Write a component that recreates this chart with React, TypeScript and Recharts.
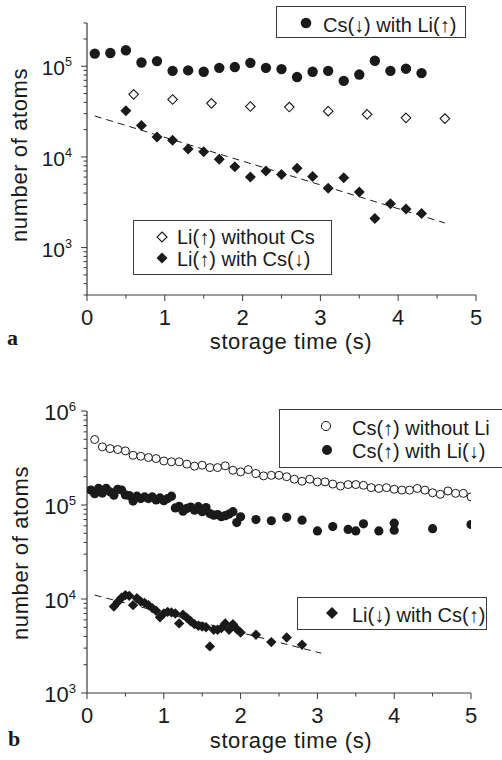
import React from "react";
import { ComposedChart, Scatter, XAxis, YAxis } from "recharts";

// ---- panel a ----
const csDownX = [0.1, 0.3, 0.5, 0.7, 0.9, 1.1, 1.3, 1.5, 1.7, 1.9, 2.1, 2.3, 2.5, 2.7, 2.9, 3.1, 3.3, 3.5, 3.7, 3.9, 4.1, 4.3];
const csDownY = [138000, 140000, 150000, 110000, 114000, 89000, 90000, 87000, 96000, 98000, 109000, 96000, 93000, 76000, 87000, 89000, 69000, 81000, 115000, 89000, 94000, 84000];

const liUpNoCsX = [0.6, 1.1, 1.6, 2.1, 2.6, 3.1, 3.6, 4.1, 4.6];
const liUpNoCsY = [49000, 43000, 39000, 36000, 35500, 32000, 29500, 27000, 26500];

const liUpWithCsX = [0.5, 0.7, 0.9, 1.1, 1.3, 1.5, 1.7, 1.9, 2.1, 2.3, 2.5, 2.7, 2.9, 3.1, 3.3, 3.5, 3.7, 3.9, 4.1, 4.3];
const liUpWithCsY = [32400, 22200, 16600, 15300, 12200, 11400, 9400, 7800, 6000, 7000, 6400, 7500, 6100, 4500, 5900, 4100, 2100, 3050, 2670, 2370];

const fitAX = [0.1, 4.6];
const fitAY = [28300, 1870];

// ---- panel b ----
const csUpNoLiX = [
  0.1, 0.2, 0.3, 0.4, 0.5, 0.6, 0.7, 0.8, 0.9, 1.0,
  1.1, 1.2, 1.3, 1.4, 1.5, 1.6, 1.7, 1.8, 1.9, 2.0,
  2.1, 2.2, 2.3, 2.4, 2.5, 2.6, 2.7, 2.8, 2.9, 3.0,
  3.1, 3.2, 3.3, 3.4, 3.5, 3.6, 3.7, 3.8, 3.9, 4.0,
  4.1, 4.2, 4.3, 4.4, 4.5, 4.6, 4.7, 4.8, 4.9, 5.0,
];
const csUpNoLiY = [
  497000, 415000, 398000, 389000, 376000, 338000, 330000, 320000, 312000, 294000,
  288000, 288000, 272000, 259000, 265000, 250000, 250000, 261000, 234000, 225000,
  238000, 216000, 204000, 207000, 207000, 200000, 188000, 179000, 188000, 176000,
  176000, 167000, 159000, 165000, 165000, 162000, 153000, 150000, 153000, 147000,
  144000, 144000, 150000, 144000, 135000, 130000, 141000, 133000, 133000, 122000,
];

const csUpWithLiX = [
  0.05, 0.1, 0.15, 0.2, 0.25, 0.3, 0.35, 0.4, 0.45, 0.5,
  0.55, 0.6, 0.65, 0.7, 0.75, 0.8, 0.85, 0.9, 0.95, 1.0,
  1.05, 1.1, 1.15, 1.2, 1.25, 1.3, 1.35, 1.4, 1.45, 1.5,
  1.55, 1.6, 1.65, 1.7, 1.75, 1.8, 1.85, 1.9, 1.95, 2.0,
  2.2, 2.4, 2.6, 2.8, 3.0, 3.2, 3.4, 3.5, 3.6, 3.8, 4.0, 4.0, 4.5, 5.0,
];
const csUpWithLiY = [
  144000, 132000, 150000, 134000, 150000, 138000, 127000, 147000, 144000, 128000,
  126000, 110000, 124000, 117000, 122000, 117000, 122000, 113000, 119000, 111000,
  117000, 124000, 93000, 97000, 86000, 92000, 95000, 88000, 96000, 85000,
  94000, 81000, 78000, 79000, 75000, 77000, 80000, 85000, 65000, 75000,
  70000, 68000, 74000, 69000, 53000, 59000, 55000, 53000, 63000, 53000, 64000, 54000, 56000, 62000,
];

const liDownX = [
  0.35, 0.4, 0.45, 0.5, 0.55, 0.6, 0.65, 0.7, 0.75, 0.8,
  0.85, 0.9, 0.95, 1.0, 1.05, 1.1, 1.15, 1.2, 1.25, 1.3,
  1.35, 1.4, 1.45, 1.5, 1.55, 1.6, 1.65, 1.7, 1.75, 1.8,
  1.85, 1.9, 1.95, 2.0, 2.2, 2.4, 2.6, 2.8,
];
const liDownY = [
  8300, 9300, 10300, 11000, 10800, 8600, 10200, 9400, 9100, 8600,
  8000, 7500, 6400, 7000, 7300, 7200, 7000, 5500, 6800, 6300,
  5800, 5400, 5200, 5100, 5000, 3130, 4700, 4700, 4900, 5500,
  4700, 5400, 4800, 4400, 4160, 3480, 3890, 3260,
];

const fitBX = [0.1, 3.05];
const fitBY = [11000, 2650];

const xTicks = [0, 0.5, 1, 1.5, 2, 2.5, 3, 3.5, 4, 4.5, 5];
const yTicksA = [300, 400, 500, 600, 700, 800, 900, 1000, 2000, 3000, 4000, 5000, 6000, 7000, 8000, 9000, 10000, 20000, 30000, 40000, 50000, 60000, 70000, 80000, 90000, 100000, 200000, 300000];
const yTicksB = [1000, 2000, 3000, 4000, 5000, 6000, 7000, 8000, 9000, 10000, 20000, 30000, 40000, 50000, 60000, 70000, 80000, 90000, 100000, 200000, 300000, 400000, 500000, 600000, 700000, 800000, 900000, 1000000];

const zip = (xs: number[], ys: number[]) => xs.map((x, i) => ({ x, y: ys[i] }));

const INK = "#1a1a1a";
const AXIS = "#3a3a3a";
const SANS = "'Liberation Sans', Arial, Helvetica, sans-serif";

const isMajor = (v: number) => Math.abs(Math.log10(v) - Math.round(Math.log10(v))) < 1e-6;

function makeYTick(fontSize: number, gap: number) {
  return function YTick(props: any) {
    const { x, y, payload } = props;
    const v = payload.value;
    const major = isMajor(v);
    return (
      <g>
        <line x1={x} x2={x - (major ? 6 : 3.5)} y1={y} y2={y} stroke={AXIS} strokeWidth={1} />
        {major && (
          <text x={x - gap} y={y + 9} textAnchor="end" fontFamily={SANS} fontSize={fontSize} fill={INK}>
            10
            <tspan dy={-9} fontSize={fontSize * 0.6}>
              {Math.round(Math.log10(v))}
            </tspan>
          </text>
        )}
      </g>
    );
  };
}

function XTick(props: any) {
  const { x, y, payload } = props;
  const v = payload.value;
  const major = Number.isInteger(v);
  return (
    <g>
      <line x1={x} x2={x} y1={y} y2={y + (major ? 6 : 3.5)} stroke={AXIS} strokeWidth={1} />
      {major && (
        <text x={x} y={y + 30} textAnchor="middle" fontFamily={SANS} fontSize={22} fill={INK}>
          {v}
        </text>
      )}
    </g>
  );
}

const filledCircle = (r: number) => (p: any) => <circle cx={p.cx} cy={p.cy} r={r} fill={INK} />;
const openCircle = (r: number) => (p: any) => (
  <circle cx={p.cx} cy={p.cy} r={r} fill="#fff" stroke={INK} strokeWidth={1} />
);
const diamondPath = (cx: number, cy: number, h: number) =>
  `M${cx},${cy - h}L${cx + h},${cy}L${cx},${cy + h}L${cx - h},${cy}Z`;
const filledDiamond = (h: number) => (p: any) => <path d={diamondPath(p.cx, p.cy, h)} fill={INK} />;
const openDiamond = (h: number) => (p: any) => (
  <path d={diamondPath(p.cx, p.cy, h)} fill="#fff" stroke={INK} strokeWidth={1.1} />
);
const noShape = () => <g />;

const fitLine = { stroke: INK, strokeWidth: 1, strokeDasharray: "7 5" };

function PanelA() {
  return (
    <ComposedChart width={502} height={380} margin={{ top: 23, right: 26, bottom: 55, left: 27 }}>
      <XAxis
        type="number"
        dataKey="x"
        domain={[0, 5]}
        ticks={xTicks}
        interval={0}
        height={30}
        tickSize={0}
        tickMargin={0}
        tickLine={false}
        axisLine={{ stroke: AXIS, strokeWidth: 1.2 }}
        tick={XTick}
      />
      <YAxis
        type="number"
        dataKey="y"
        scale="log"
        domain={[300, 300000]}
        allowDataOverflow
        ticks={yTicksA}
        interval={0}
        width={60}
        tickSize={0}
        tickMargin={0}
        tickLine={false}
        axisLine={{ stroke: AXIS, strokeWidth: 1.2 }}
        tick={makeYTick(21, 15)}
      />
      <Scatter data={zip(fitAX, fitAY)} line={fitLine} lineType="joint" shape={noShape} isAnimationActive={false} />
      <Scatter data={zip(csDownX, csDownY)} shape={filledCircle(5.2)} isAnimationActive={false} />
      <Scatter data={zip(liUpNoCsX, liUpNoCsY)} shape={openDiamond(4.8)} isAnimationActive={false} />
      <Scatter data={zip(liUpWithCsX, liUpWithCsY)} shape={filledDiamond(5.5)} isAnimationActive={false} />
    </ComposedChart>
  );
}

function PanelB() {
  return (
    <ComposedChart width={502} height={380} margin={{ top: 31, right: 31, bottom: 37, left: 27 }}>
      <XAxis
        type="number"
        dataKey="x"
        domain={[0, 5]}
        allowDataOverflow
        ticks={xTicks}
        interval={0}
        height={30}
        tickSize={0}
        tickMargin={0}
        tickLine={false}
        axisLine={{ stroke: AXIS, strokeWidth: 1.2 }}
        tick={XTick}
      />
      <YAxis
        type="number"
        dataKey="y"
        scale="log"
        domain={[1000, 1000000]}
        allowDataOverflow
        ticks={yTicksB}
        interval={0}
        width={60}
        tickSize={0}
        tickMargin={0}
        tickLine={false}
        axisLine={{ stroke: AXIS, strokeWidth: 1.2 }}
        tick={makeYTick(22, 11)}
      />
      <Scatter data={zip(csUpNoLiX, csUpNoLiY)} shape={openCircle(4)} isAnimationActive={false} />
      <Scatter data={zip(csUpWithLiX, csUpWithLiY)} shape={filledCircle(4.6)} isAnimationActive={false} />
      <Scatter data={zip(fitBX, fitBY)} line={fitLine} lineType="joint" shape={noShape} isAnimationActive={false} />
      <Scatter data={zip(liDownX, liDownY)} shape={filledDiamond(5.2)} isAnimationActive={false} />
    </ComposedChart>
  );
}

// legends, axis titles and panel letters drawn over both panels
function Overlay() {
  const t = { fontFamily: SANS, fill: INK } as const;
  const title = { ...t, fontSize: 22, letterSpacing: 0.6 } as const;
  const serif = "'Liberation Serif', 'Times New Roman', serif";
  return (
    <svg width={502} height={760} style={{ position: "absolute", left: 0, top: 0, pointerEvents: "none" }}>
      {/* panel a */}
      <rect x={276.5} y={6.5} width={189} height={31} fill="#fff" stroke={AXIS} strokeWidth={1} />
      <circle cx={306} cy={23} r={5.3} fill={INK} />
      <text x={323} y={32} fontSize={20} {...t}>Cs(↓) with Li(↑)</text>

      <rect x={133.5} y={220.5} width={198} height={54} fill="#fff" stroke={AXIS} strokeWidth={1} />
      <path d={diamondPath(162, 237, 5)} fill="#fff" stroke={INK} strokeWidth={1.1} />
      <text x={177} y={244} fontSize={20} {...t}>Li(↑) without Cs</text>
      <path d={diamondPath(162, 258, 5.5)} fill={INK} />
      <text x={177} y={266} fontSize={20} {...t}>Li(↑) with Cs(↓)</text>

      <text transform="translate(27,155) rotate(-90)" textAnchor="middle" {...title}>number of atoms</text>
      <text x={291} y={349} textAnchor="middle" {...title}>storage time (s)</text>
      <text x={7} y={345} fontSize={22} fontWeight="bold" fontFamily={serif} fill={INK}>a</text>

      {/* panel b */}
      <rect x={279.5} y={409.5} width={226} height={58} fill="#fff" stroke={AXIS} strokeWidth={1} />
      <circle cx={326} cy={426} r={4.6} fill="#fff" stroke={INK} strokeWidth={1} />
      <text x={352} y={435} fontSize={20} {...t}>Cs(↑) without Li</text>
      <circle cx={327} cy={450} r={5} fill={INK} />
      <text x={352} y={458} fontSize={20} {...t}>Cs(↑) with Li(↓)</text>

      <rect x={297.5} y={597.5} width={189} height={32} fill="#fff" stroke={AXIS} strokeWidth={1} />
      <path d={diamondPath(332, 613, 6)} fill={INK} />
      <text x={352} y={622} fontSize={20} {...t}>Li(↓) with Cs(↑)</text>

      <text transform="translate(28,553) rotate(-90)" textAnchor="middle" {...title}>number of atoms</text>
      <text x={291} y={748} textAnchor="middle" {...title}>storage time (s)</text>
      <text x={8} y={746} fontSize={22} fontWeight="bold" fontFamily={serif} fill={INK}>b</text>
    </svg>
  );
}

export default function App() {
  return (
    <div style={{ position: "absolute", left: 0, top: 0, width: 502, height: 760, background: "#fff" }}>
      <div style={{ position: "absolute", left: 0, top: 0 }}>
        <PanelA />
      </div>
      <div style={{ position: "absolute", left: 0, top: 380 }}>
        <PanelB />
      </div>
      <Overlay />
    </div>
  );
}
